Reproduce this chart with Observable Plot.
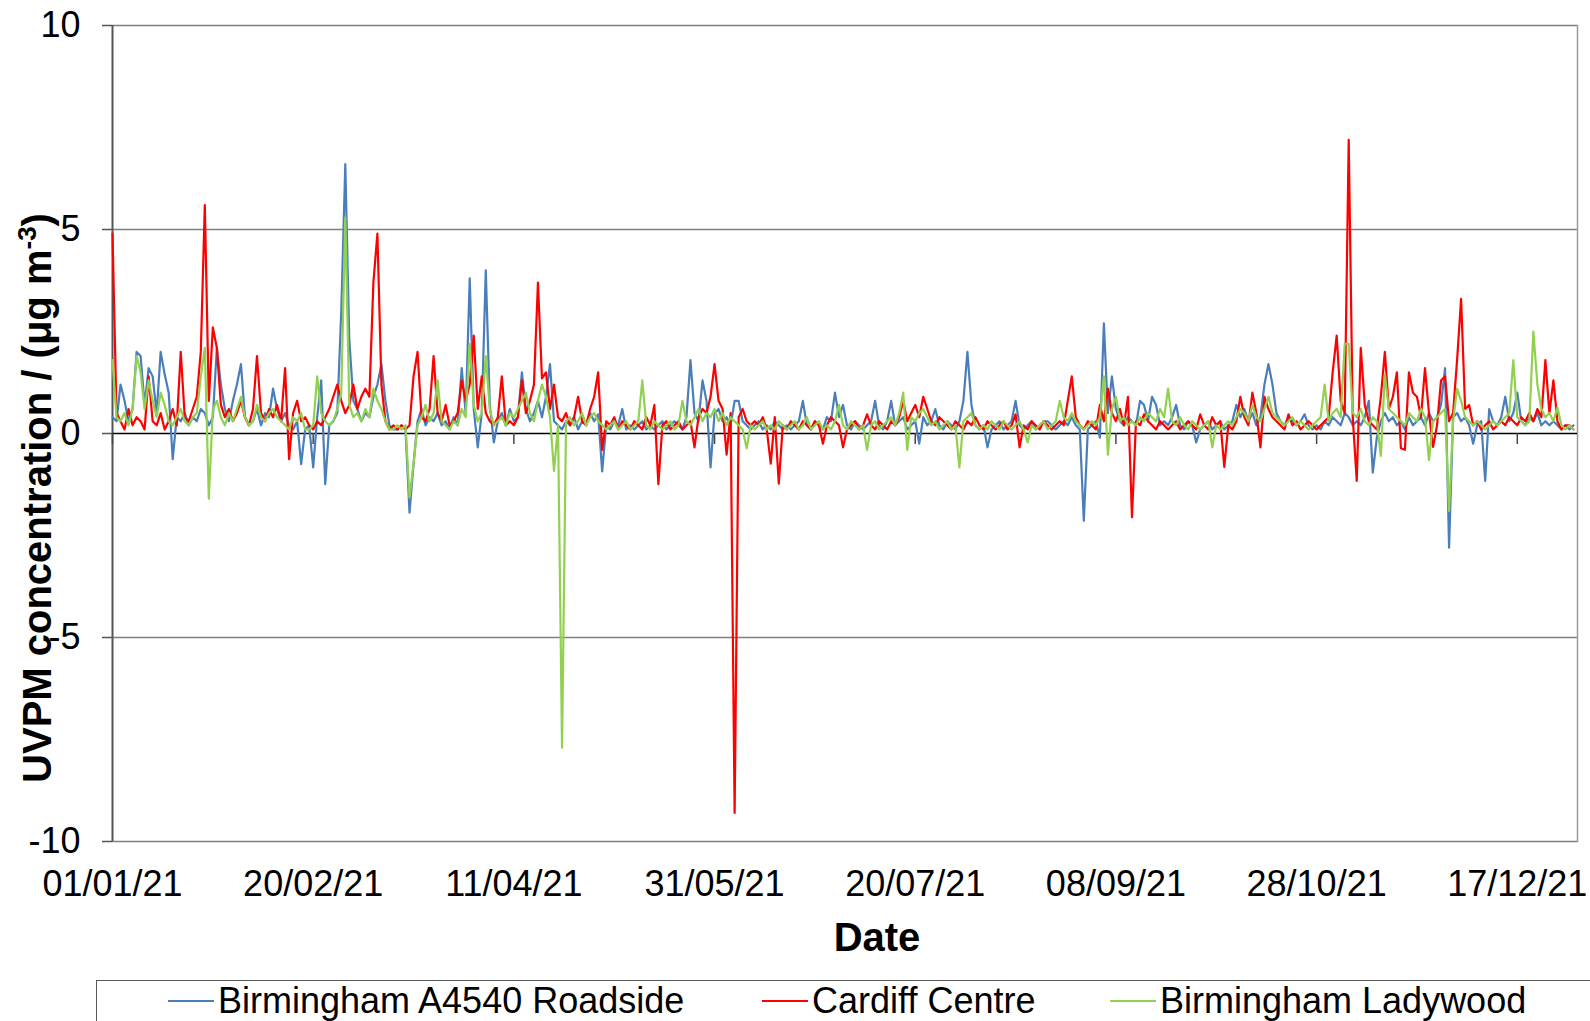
<!DOCTYPE html>
<html>
<head>
<meta charset="utf-8">
<script src="https://cdn.jsdelivr.net/npm/d3@7"></script>
<script src="https://cdn.jsdelivr.net/npm/@observablehq/plot@0.6"></script>
<style>
  body { margin: 0; background: #fff; overflow: hidden; font-family: "Liberation Sans", Arial, sans-serif; }
  #wrap { position: relative; width: 1590px; height: 1021px; overflow: hidden; }
  #legend { position: absolute; left: 96px; top: 980px; width: 1520px; height: 48px; border: 1px solid #595959; box-sizing: border-box; }
  .item { position: absolute; top: 0; height: 40px; display: flex; align-items: center; font-size: 36px; color: #000; white-space: nowrap; }
  .sw { display: inline-block; width: 46px; height: 2px; margin-right: 4px; }
</style>
</head>
<body>
<div id="wrap"></div>
<script>
// Daily UVPM concentrations for 2021 (µg m-3), one value per day from 1 Jan.
const startDate = "2021-01-01";
const endDate = "2022-01-01";

const seriesNames = ["Birmingham A4540 Roadside", "Cardiff Centre", "Birmingham Ladywood"];
const seriesColors = ["#4A7EBB", "#FF0000", "#92D050"];

const birminghamA4540 = [
  0.4, 0.3, 1.2, 0.8, 0.3, 0.6, 2.0, 1.9, 0.7, 1.6,
  1.4, 0.5, 2.0, 1.45, 1.0, -0.63, 0.4, 0.3, 0.5, 0.2,
  0.4, 0.3, 0.6, 0.5, 0.2, 0.4, 2.1, 1.2, 0.6, 0.3,
  0.8, 1.2, 1.7, 0.4, 0.2, 0.3, 0.6, 0.2, 0.5, 0.4,
  1.1, 0.6, 0.3, 0.5, 0.2, 0.1, 0.3, -0.75, 0.1, 0.2,
  -0.83, 0.4, 1.3, -1.24, 0.2, 0.3, 0.5, 3.0, 6.6, 2.3,
  0.8, 0.6, 0.3, 0.5, 0.4, 0.9, 1.2, 1.7, 0.8, 0.2,
  0.1, 0.1, 0.2, 0.1, -1.94, -0.75, 0.3, 0.6, 0.2, 0.4,
  0.3, 0.5, 0.2, 0.3, 0.1, 0.4, 0.2, 1.6, 0.5, 3.8,
  0.6, -0.34, 0.5, 4.0, 0.7, -0.22, 0.3, 0.5, 0.2, 0.6,
  0.3, 0.4, 1.5, 0.6, 0.3, 0.5, 0.8, 0.4, 0.9, 1.7,
  0.3, 0.2, 0.1, 0.3, 0.2, 0.4, 0.1, 0.3, 0.2, 0.5,
  0.3, 0.47, -0.93, 0.2, 0.1, 0.3, 0.2, 0.6, 0.1, 0.2,
  0.1, 0.2, 0.3, 0.1, 0.2, 0.1, 0.2, 0.3, 0.1, 0.2,
  0.3, 0.2, 0.1, 0.4, 1.8, 0.5, 0.3, 1.3, 0.8, -0.83,
  0.5, 0.6, 0.3, 0.4, 0.2, 0.8, 0.8, 0.3, 0.2, 0.1,
  0.2, 0.3, 0.1, 0.2, 0.1, 0.3, 0.2, 0.1, 0.2, 0.1,
  0.2, 0.3, 0.8, 0.2, 0.1, 0.3, 0.2, 0.1, 0.4, 0.3,
  1.0, 0.4, 0.7, 0.2, 0.1, 0.3, 0.2, 0.1, 0.2, 0.3,
  0.8, 0.2, 0.1, 0.3, 0.8, 0.2, 0.3, 0.4, 0.1, 0.2,
  0.3, -0.25, 0.4, 0.2, 0.3, 0.6, 0.2, 0.1, 0.3, 0.2,
  0.1, 0.3, 0.8, 2.0, 0.7, 0.2, 0.1, 0.2, -0.34, 0.1,
  0.2, 0.3, 0.1, 0.2, 0.3, 0.8, 0.2, 0.1, 0.2, 0.3,
  0.1, 0.2, 0.3, 0.3, 0.2, 0.1, 0.2, 0.3, 0.2, 0.4,
  0.2, 0.1, -2.14, 0.1, 0.2, 0.3, -0.1, 2.7, 0.5, 1.4,
  0.6, 0.3, 0.2, 0.4, 0.3, 0.2, 0.8, 0.7, 0.3, 0.9,
  0.7, 0.2, 0.3, 0.2, 0.4, 0.7, 0.2, 0.1, 0.3, 0.2,
  -0.22, 0.1, 0.2, 0.3, 0.1, 0.2, 0.3, 0.1, 0.2, 0.3,
  0.7, 0.4, 0.6, 0.3, 0.5, 0.2, 0.4, 1.2, 1.7, 1.2,
  0.5, 0.3, 0.2, 0.4, 0.3, 0.2, 0.3, 0.47, 0.2, 0.1,
  0.2, 0.1, 0.3, 0.2, 0.4, 0.3, 0.2, 0.5, 0.4, 0.2,
  0.3, 0.2, 0.4, 0.8, -0.96, -0.1, 0.3, 0.5, 0.3, 0.4,
  0.2, 0.3, 0.1, 0.4, 0.2, 0.3, 0.4, 0.2, 0.5, 0.3,
  0.4, 0.7, 1.6, -2.8, 0.4, 0.5, 0.3, 0.4, 0.2, -0.25,
  0.2, 0.3, -1.16, 0.6, 0.3, 0.2, 0.4, 0.9, 0.3, 0.5,
  1.0, 0.3, 0.2, 0.4, 0.3, 0.5, 0.2, 0.3, 0.2, 0.3,
  0.2, 0.1, 0.2, 0.1, 0.2
];

const cardiffCentre = [
  4.9, 0.5, 0.3, 0.1, 0.6, 0.2, 0.4, 0.3, 0.1, 1.4,
  0.3, 0.2, 0.5, 0.1, 0.3, 0.6, 0.2, 2.0, 0.4, 0.3,
  0.6, 0.9, 2.0, 5.6, 0.8, 2.6, 2.1, 0.7, 0.4, 0.6,
  0.3, 0.5, 0.8, 0.4, 0.2, 0.6, 1.9, 0.5, 0.3, 0.6,
  0.4, 0.7, 0.3, 1.6, -0.63, 0.5, 0.8, 0.3, 0.4, 0.2,
  0.1, 0.3, 0.2, 0.4, 0.6, 0.9, 1.2, 0.8, 0.5, 0.7,
  1.2, 0.6, 0.9, 1.1, 0.9, 3.7, 4.9, 1.2, 0.3, 0.1,
  0.2, 0.1, 0.2, 0.1, 0.2, 1.4, 2.0, 0.4, 0.3, 0.6,
  1.9, 0.5, 0.3, 0.7, 0.2, 0.3, 0.5, 1.3, 0.8, 1.2,
  2.4, 0.6, 1.4, 0.5, 0.3, 0.2, 0.4, 1.4, 0.2, 0.3,
  0.2, 0.4, 1.3, 0.5, 0.8, 1.2, 3.7, 1.35, 1.5, 0.6,
  1.2, 0.4, 0.3, 0.5, 0.2, 0.4, 0.9, 0.3, 0.2, 0.6,
  0.9, 1.5, -0.4, 0.3, 0.2, 0.4, 0.1, 0.3, 0.2, 0.1,
  0.3, 0.2, 0.1, 0.4, 0.2, 0.7, -1.24, 0.2, 0.3, 0.1,
  0.2, 0.3, 0.1, 0.2, 0.3, -0.34, 0.4, 0.6, 0.5, 0.9,
  1.7, 0.8, 0.6, -0.52, 0.5, -9.3, 0.4, 0.6, 0.3, 0.2,
  0.3, 0.2, 0.4, 0.1, -0.74, 0.4, -1.23, 0.2, 0.1, 0.3,
  0.2, 0.1, 0.3, 0.2, 0.1, 0.3, 0.2, -0.25, 0.2, 0.4,
  0.3, 0.2, -0.34, 0.1, 0.2, 0.3, 0.1, 0.2, 0.47, 0.2,
  0.1, 0.3, 0.2, 0.1, 0.3, 0.2, 0.4, 0.8, 0.3, 0.5,
  0.7, 0.4, 0.9, 0.6, 0.3, 0.2, 0.4, 0.3, 0.2, 0.1,
  0.3, 0.2, 0.1, 0.3, 0.2, 0.4, 0.2, 0.1, 0.3, 0.2,
  0.1, 0.2, 0.3, 0.1, 0.2, 0.47, -0.34, 0.2, 0.1, 0.3,
  0.2, 0.1, 0.3, 0.2, 0.1, 0.2, 0.3, 0.2, 0.8, 1.4,
  0.4, 0.2, 0.1, 0.3, 0.2, 0.1, 0.7, 0.3, 1.1, 0.5,
  0.3, 0.6, 0.2, 0.9, -2.05, 0.3, 0.2, 0.47, 0.3, 0.2,
  0.1, 0.3, 0.2, 0.1, 0.2, 0.3, 0.1, 0.2, 0.3, 0.2,
  0.1, 0.47, 0.2, 0.1, 0.4, 0.2, 0.3, -0.82, 0.2, 0.1,
  0.3, 0.9, 0.4, 0.2, 1.0, 0.5, -0.34, 0.9, 0.6, 0.4,
  0.3, 0.2, 0.1, 0.47, 0.2, 0.3, 0.1, 0.2, 0.3, 0.2,
  0.1, 0.2, 0.3, 0.4, 1.5, 2.4, 0.8, 0.5, 7.2, 0.4,
  -1.16, 2.1, 0.7, 0.3, 0.2, 0.1, 0.9, 2.0, 0.6, 0.9,
  1.5, -0.36, -0.4, 1.5, 1.0, 0.9, 0.4, 1.6, 0.5, -0.33,
  0.2, 1.3, 1.4, 0.3, 0.5, 1.8, 3.3, 0.6, 0.7, 0.2,
  0.3, 0.1, 0.2, 0.3, 0.1, 0.2, 0.3, 0.2, 0.4, 0.3,
  0.2, 0.4, 0.3, 0.5, 0.3, 0.6, 0.4, 1.8, 0.5, 1.3,
  0.3, 0.1, 0.2, 0.2, 0.1
];

const birminghamLadywood = [
  1.8, 0.4, 0.3, 0.5, 0.2, 0.6, 1.9, 1.5, 0.6, 1.3,
  0.8, 0.4, 1.0, 0.7, 0.3, 0.2, 0.4, 0.6, 0.3, 0.2,
  0.4, 0.5, 1.4, 2.1, -1.6, 0.6, 0.8, 0.4, 0.2, 0.5,
  0.3, 0.6, 0.9, 0.4, 0.2, 0.3, 0.7, 0.4, 0.3, 0.5,
  0.6, 0.4, 0.3, 0.2, 0.1, 0.4, 0.3, 0.5, 0.1, 0.1,
  0.2, 1.4, 0.5, 0.3, 0.2, 0.3, 0.6, 1.0, 5.3, 0.7,
  0.4, 0.5, 0.3, 0.6, 0.4, 1.1, 0.8, 0.6, 0.3, 0.1,
  0.1, 0.2, 0.1, 0.2, -1.57, -0.75, 0.2, 0.4, 0.7, 0.3,
  0.5, 1.3, 0.3, 0.2, 0.1, 0.3, 0.2, 0.6, 0.4, 2.2,
  0.7, 0.3, 0.5, 1.9, 0.6, 0.2, 0.3, 0.4, 0.2, 0.5,
  0.4, 0.6, 0.8, 1.0, 0.5, 0.3, 0.8, 1.2, 0.9, 0.4,
  -0.92, 0.2, -7.7, 0.3, 0.4, 0.2, 0.3, 0.5, 0.2, 0.4,
  0.5, 0.3, 0.2, 0.1, 0.2, 0.3, 0.1, 0.2, 0.3, 0.1,
  0.2, 0.3, 1.3, 0.2, 0.1, 0.3, 0.2, 0.1, 0.2, 0.3,
  0.1, 0.2, 0.8, 0.3, 0.2, 0.4, 0.6, 0.3, 0.5, 0.4,
  0.6, 0.3, 0.5, 0.2, 0.4, 0.3, 0.2, 0.1, -0.36, 0.2,
  0.1, 0.2, 0.3, 0.1, 0.2, 0.1, 0.3, 0.2, 0.1, 0.2,
  0.3, 0.1, 0.2, 0.4, 0.1, 0.2, 0.3, 0.1, 0.2, 0.1,
  0.3, 0.7, 0.2, 0.1, 0.3, 0.2, 0.1, 0.2, -0.4, 0.2,
  0.3, 0.1, 0.2, 0.3, 0.4, 0.2, 0.5, 1.0, -0.4, 0.4,
  0.3, 0.5, 0.6, 0.4, 0.2, 0.3, 0.1, 0.2, 0.3, 0.1,
  0.2, -0.83, 0.3, 0.4, 0.5, 0.2, 0.1, 0.2, 0.1, 0.3,
  0.2, 0.1, 0.3, 0.2, 0.1, 0.2, 0.3, 0.1, -0.22, 0.2,
  0.1, 0.2, 0.3, 0.1, 0.2, 0.3, 0.8, 0.4, 0.3, 0.5,
  0.3, 0.2, 0.1, 0.2, 0.3, 0.2, 0.4, 1.4, -0.52, 0.6,
  0.9, 0.3, 0.4, 0.2, 0.3, 0.2, 0.4, 0.3, 0.5, 0.4,
  0.3, 0.6, 0.4, 1.1, 0.3, 0.2, 0.4, 0.2, 0.1, 0.3,
  0.2, 0.1, 0.2, 0.3, -0.34, 0.2, 0.1, 0.2, 0.3, 0.2,
  0.4, 0.6, 0.5, 0.3, 0.7, 0.4, 0.3, 0.6, 0.9, 0.5,
  0.4, 0.3, 0.2, 0.3, 0.4, 0.2, 0.3, 0.2, 0.1, 0.2,
  0.3, 0.4, 1.2, 0.3, 0.5, 0.6, 0.4, 2.2, 2.2, 0.5,
  0.4, 0.6, 0.3, 0.2, 0.4, 0.3, -0.55, 1.45, 0.6, 0.5,
  0.4, 0.3, 0.2, 0.5, 0.4, 0.3, 0.6, 0.4, -0.65, 0.3,
  0.4, 0.5, 0.6, -1.9, 0.3, 1.1, 0.8, 0.4, 0.3, 0.2,
  0.3, 0.2, 0.1, 0.2, 0.3, 0.2, 0.3, 0.4, 0.5, 1.8,
  0.4, 0.3, 0.2, 0.3, 2.5, 1.2, 0.6, 0.4, 0.5, 0.3,
  0.64, 0.2, 0.1, 0.2, 0.1
];

const xTickLabels = ["01/01/21", "20/02/21", "11/04/21", "31/05/21", "20/07/21", "08/09/21", "28/10/21", "17/12/21"];
const yTicks = [-10, -5, 0, 5, 10];
const yGrid = [-10, -5, 5, 10];

const parseLabel = d3.utcParse("%d/%m/%y");
const formatLabel = d3.utcFormat("%d/%m/%y");
const start = new Date(startDate);
const end = new Date(endDate);
const dates = birminghamA4540.map((_, i) => d3.utcDay.offset(start, i));
const tickDates = xTickLabels.map(parseLabel);
const series = [birminghamA4540, cardiffCentre, birminghamLadywood];

const chart = Plot.plot({
  width: 1590,
  height: 975,
  marginLeft: 112,
  marginRight: 13,
  marginTop: 25,
  marginBottom: 134,
  style: {
    fontFamily: "'Liberation Sans', Arial, sans-serif",
    fontSize: "36px",
    color: "#000",
    background: "#fff",
    overflow: "visible"
  },
  x: {type: "utc", domain: [start, end]},
  y: {domain: [-10, 10]},
  marks: [
    Plot.ruleY(yGrid, {stroke: "#7f7f7f", strokeWidth: 1.5}),
    Plot.frame({anchor: "right", stroke: "#9a9a9a", strokeWidth: 1.5}),
    Plot.axisY({ticks: yTicks, tickSize: 10, tickPadding: 22, tickFormat: d => String(d), label: null, stroke: "#555", strokeWidth: 1.5}),
    Plot.axisX({ticks: tickDates, tickSize: 0, tickPadding: 29, tickFormat: formatLabel, label: null}),
    Plot.ruleX([start], {stroke: "#555", strokeWidth: 2}),
    Plot.ruleY([0], {stroke: "#000", strokeWidth: 1.3}),
    Plot.ruleX(tickDates, {y1: 0, y2: -0.27, stroke: "#444", strokeWidth: 1.5}),
    ...series.map((values, k) =>
      Plot.lineY(values, {x: dates, stroke: seriesColors[k], strokeWidth: 2.2, strokeLinejoin: "round"})
    )
  ]
});

// Axis titles
const svg = d3.select(chart);
svg.append("text")
  .attr("x", 877).attr("y", 951)
  .attr("text-anchor", "middle")
  .attr("font-weight", "bold").attr("font-size", 40).attr("fill", "#000")
  .text("Date");

const yTitle = svg.append("text")
  .attr("transform", "translate(51,498) rotate(-90)")
  .attr("text-anchor", "middle")
  .attr("font-weight", "bold").attr("font-size", 40).attr("fill", "#000");
yTitle.append("tspan").text("UVPM concentration / (\u03bcg m");
yTitle.append("tspan").attr("dy", -15).attr("font-size", 26).text("-3");
yTitle.append("tspan").attr("dy", 15).text(")");

const wrap = document.getElementById("wrap");
wrap.appendChild(chart);

// Legend below the chart
const legend = d3.select(wrap).append("div").attr("id", "legend");
const legendLeft = [71, 665, 1013];
seriesNames.forEach((name, k) => {
  const item = legend.append("div").attr("class", "item").style("left", legendLeft[k] + "px");
  item.append("span").attr("class", "sw").style("background", seriesColors[k]);
  item.append("span").text(name);
});
</script>
</body>
</html>
